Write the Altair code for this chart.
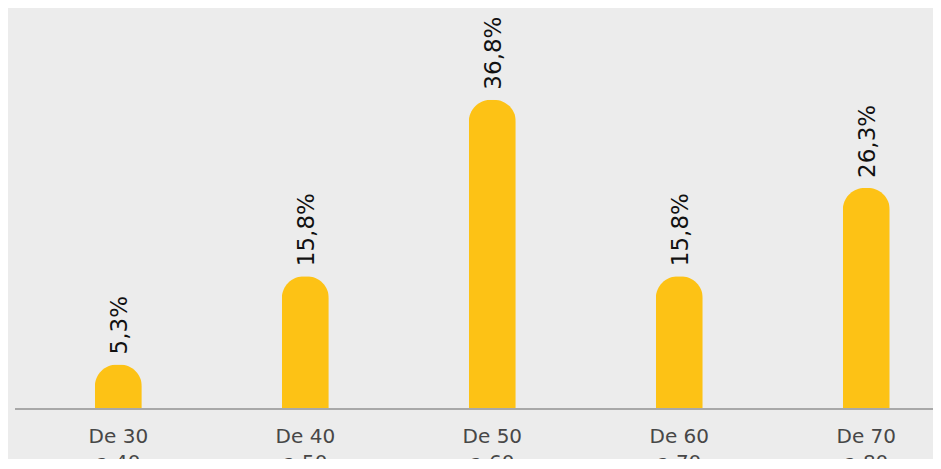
import altair as alt
import pandas as pd

categories = ["De 30\na 40", "De 40\na 50", "De 50\na 60", "De 60\na 70", "De 70\na 80"]
values = [5.3, 15.8, 36.8, 15.8, 26.3]
value_labels = ["5,3%", "15,8%", "36,8%", "15,8%", "26,3%"]

df = pd.DataFrame({
    "idx": list(range(len(categories))),
    "cat": categories,
    "val": values,
    "lab": value_labels,
})

W, H = 918, 401
xs = alt.Scale(domain=[-0.526, 4.330], nice=False, zero=False)
ys = alt.Scale(domain=[0, 47.7], nice=False, zero=True)

base = alt.Chart(df)

bars = base.mark_bar(
    size=47, color="#FDC215",
    cornerRadiusTopLeft=22, cornerRadiusTopRight=22,
).encode(
    x=alt.X("idx:Q", scale=xs, axis=None),
    y=alt.Y("val:Q", scale=ys, axis=None),
)

vlabels = base.mark_text(
    angle=270, align="left", baseline="middle", dx=10, dy=2,
    font="DejaVu Sans", fontSize=23, color="#111111",
).encode(
    x=alt.X("idx:Q", scale=xs),
    y=alt.Y("val:Q", scale=ys),
    text="lab:N",
)

xlabels = base.mark_text(
    baseline="alphabetic", align="center", lineBreak="\n", lineHeight=26,
    font="DejaVu Sans", fontSize=20, color="#474747",
).encode(
    x=alt.X("idx:Q", scale=xs),
    y=alt.value(435),
    text="cat:N",
)

rule = alt.Chart(df).mark_rule(color="#A9A9A9", strokeWidth=1.5).encode(
    x=alt.value(0), x2=alt.value(W), y=alt.value(H)
)

chart = alt.layer(bars, rule, vlabels, xlabels).properties(
    width=W, height=H,
    background="#ECECEC",
    padding={"left": 7, "top": 0, "right": 0, "bottom": 50},
    autosize=alt.AutoSizeParams(type="none"),
).configure_view(stroke=None)

chart.save("out.html", embed_options={"renderer": "svg", "actions": False})
